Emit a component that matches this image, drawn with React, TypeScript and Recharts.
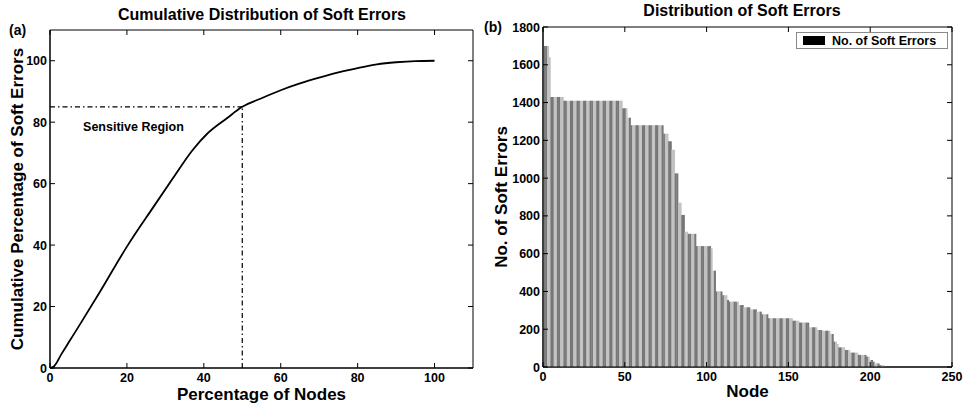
import React from 'react';
import {
  LineChart, Line, BarChart, Bar, Cell, XAxis, YAxis, ReferenceArea, ReferenceLine,
  ReferenceDot, Legend, Label,
} from 'recharts';

// (a) cumulative curve
const NODE_PCT = [0, 1, 3, 5, 8, 13, 20, 27, 32, 37, 41, 46, 50, 55, 60, 65, 70, 75, 80, 85, 90, 95, 100];
const CUM_PCT = [0, 0.5, 4.6, 8.6, 14.6, 24.8, 39.5, 52.6, 61.8, 70.8, 76.4, 81.3, 85, 87.8, 90.4, 92.6, 94.5, 96.2, 97.6, 98.8, 99.5, 99.9, 100];
const SENSITIVE_X = 50;
const SENSITIVE_Y = 85;

const A_X_TICKS = [0, 20, 40, 60, 80, 100];
const A_Y_TICKS = [0, 20, 40, 60, 80, 100];

// (b) soft errors per node (node 1..208)
const SOFT_ERRORS = [
  1700, 1700, 1700, 1640,
  1430, 1430, 1430, 1430, 1430, 1430, 1430, 1430,
  1410, 1410, 1410, 1410, 1410, 1410, 1410, 1410, 1410, 1410, 1410, 1410,
  1410, 1410, 1410, 1410, 1410, 1410, 1410, 1410, 1410, 1410, 1410, 1410,
  1410, 1410, 1410, 1410, 1410, 1410, 1410, 1410, 1410, 1410, 1410, 1410,
  1370, 1370, 1370, 1320, 1320,
  1280, 1280, 1280, 1280, 1280, 1280, 1280, 1280, 1280, 1280,
  1280, 1280, 1280, 1280, 1280, 1280, 1280, 1280, 1280, 1280,
  1235, 1235, 1235, 1195, 1195, 1150, 1150, 1025, 1025, 870, 870, 805, 805, 716, 716,
  705, 705, 705, 705, 705,
  640, 640, 640, 640, 640, 640, 640, 640, 640, 628,
  510, 510, 400, 400, 400, 400, 380, 380, 380, 355,
  346, 346, 346, 346, 346, 346, 328, 328, 328,
  316, 316, 316, 316, 305, 305, 305, 305, 293, 293, 293,
  279, 279, 279, 279,
  258, 258, 258, 258, 258, 258, 258, 258, 258, 258, 258, 258, 258, 258, 258,
  245, 245, 245, 245, 235, 235, 235, 235, 235, 235,
  210, 210, 210, 210, 210, 196, 196, 196, 192, 192, 192, 192, 192,
  175, 175, 134, 134, 122, 104, 104, 104, 104, 90, 90, 90,
  76, 76, 76, 76, 76, 64, 64, 64, 64, 64, 55, 55,
  37, 37, 28, 19, 19, 19, 10, 10, 10,
];

const B_X_TICKS = [0, 50, 100, 150, 200, 250];
const B_Y_TICKS = [0, 200, 400, 600, 800, 1000, 1200, 1400, 1600, 1800];

const FONT = '"Liberation Sans", Arial, Helvetica, sans-serif';

const cumData = NODE_PCT.map((pct, i) => ({ pct, cum: CUM_PCT[i] }));
const softData = SOFT_ERRORS.map((count, i) => ({ node: i + 1, count }));

// MATLAB style: ticks point inwards and are mirrored on the opposite side of the box
function BottomTick({ x, y, payload, top }: any) {
  return (
    <g>
      <line x1={x} y1={y} x2={x} y2={y - 5} stroke="#000" />
      <line x1={x} y1={top} x2={x} y2={top + 5} stroke="#000" />
      <text x={x} y={y + 14} textAnchor="middle" fontSize={12.5} fontWeight="bold" fontFamily={FONT} fill="#000">
        {payload.value}
      </text>
    </g>
  );
}

function LeftTick({ x, y, payload, right }: any) {
  return (
    <g>
      <line x1={x} y1={y} x2={x + 5} y2={y} stroke="#000" />
      <line x1={right} y1={y} x2={right - 5} y2={y} stroke="#000" />
      <text x={x - 3} y={y + 4.5} textAnchor="end" fontSize={12.5} fontWeight="bold" fontFamily={FONT} fill="#000">
        {payload.value}
      </text>
    </g>
  );
}

const axisTitle = { fontSize: 17, fontWeight: 'bold', fontFamily: FONT, fill: '#000', textAnchor: 'middle' } as const;

function SoftLegend() {
  return (
    <div style={{
      border: '1px solid #8a8a8a', background: '#fff', height: 17, display: 'flex',
      alignItems: 'center', fontFamily: FONT, fontWeight: 'bold', fontSize: 12.5, color: '#000',
      whiteSpace: 'nowrap', boxSizing: 'border-box', width: 152,
    }}>
      <span style={{ display: 'inline-block', width: 22, height: 9, background: '#000', margin: '0 7px 0 6px' }} />
      No. of Soft Errors
    </div>
  );
}

export default function App() {
  return (
    <div style={{ position: 'absolute', left: 0, top: 0, width: 964, height: 408, background: '#fff' }}>
      <div style={{ position: 'absolute', left: 0, top: 0 }}>
        <LineChart width={480} height={408} data={cumData} margin={{ top: 30, right: 7, bottom: 0, left: 0 }}>
          <XAxis
            dataKey="pct" type="number" domain={[0, 110]} ticks={A_X_TICKS} height={40}
            tickSize={0} tickMargin={0} tickLine={false} stroke="#000" interval={0}
            tick={(p: any) => <BottomTick {...p} top={30} />}
          >
            <Label value="Percentage of Nodes" position="insideBottom" offset={8} style={axisTitle} />
          </XAxis>
          <YAxis
            type="number" domain={[0, 110]} ticks={A_Y_TICKS} width={50}
            tickSize={0} tickMargin={0} tickLine={false} stroke="#000" interval={0}
            tick={(p: any) => <LeftTick {...p} right={473} />}
          >
            <Label value="Cumulative Percentage of Soft Errors" angle={-90} position="insideLeft" offset={17} style={axisTitle} />
          </YAxis>
          <ReferenceArea x1={0} x2={110} y1={0} y2={110} fill="none" stroke="#000" fillOpacity={0} />
          <ReferenceLine
            segment={[{ x: 0, y: SENSITIVE_Y }, { x: SENSITIVE_X, y: SENSITIVE_Y }]}
            stroke="#000" strokeWidth={1.2} strokeDasharray="5 3 1.5 3"
          />
          <ReferenceLine
            segment={[{ x: SENSITIVE_X, y: 0 }, { x: SENSITIVE_X, y: SENSITIVE_Y }]}
            stroke="#000" strokeWidth={1.2} strokeDasharray="5 3 1.5 3"
          />
          <ReferenceDot
            x={8.6} y={78.7} r={0} fill="none" stroke="none"
            label={{ value: 'Sensitive Region', position: 'right', offset: 0, fontSize: 12.5, fontWeight: 'bold', fontFamily: FONT, fill: '#000' }}
          />
          <Line dataKey="cum" type="monotone" stroke="#000" strokeWidth={1.8} dot={false} isAnimationActive={false} />
        </LineChart>
      </div>

      <div style={{ position: 'absolute', left: 480, top: 0 }}>
        <BarChart width={484} height={408} data={softData} barCategoryGap={0} margin={{ top: 27, right: 12, bottom: 0, left: 0 }}>
          <XAxis
            dataKey="node" type="number" domain={[0, 250]} ticks={B_X_TICKS} height={41}
            tickSize={0} tickMargin={0} tickLine={false} stroke="#000" interval={0}
            tick={(p: any) => <BottomTick {...p} top={27} />}
          >
            <Label value="Node" position="insideBottom" offset={11} style={axisTitle} />
          </XAxis>
          <YAxis
            type="number" domain={[0, 1800]} ticks={B_Y_TICKS} width={63}
            tickSize={0} tickMargin={0} tickLine={false} stroke="#000" interval={0}
            tick={(p: any) => <LeftTick {...p} right={472} />}
          >
            <Label value="No. of Soft Errors" angle={-90} position="insideLeft" offset={21} style={axisTitle} />
          </YAxis>
          <Bar dataKey="count" isAnimationActive={false} name="No. of Soft Errors">
            {softData.map((_, idx) => (
              <Cell key={idx} fill={idx % 4 < 2 ? '#777777' : '#c2c2c2'} />
            ))}
          </Bar>
          <ReferenceArea x1={0} x2={250} y1={0} y2={1800} fill="none" stroke="#000" fillOpacity={0} />
          <Legend
            layout="vertical" align="center" verticalAlign="middle"
            wrapperStyle={{ left: 316, top: 32, width: 152, height: 19 }}
            content={() => <SoftLegend />}
          />
        </BarChart>
      </div>

      <svg width={964} height={408} style={{ position: 'absolute', left: 0, top: 0, pointerEvents: 'none' }}>
        <g fontFamily={FONT} fontWeight="bold" fill="#000">
          <text x={262} y={20} fontSize={16} textAnchor="middle">Cumulative Distribution of Soft Errors</text>
          <text x={742} y={16} fontSize={16} textAnchor="middle">Distribution of Soft Errors</text>
          <text x={9} y={35} fontSize={14}>(a)</text>
          <text x={484} y={32} fontSize={14}>(b)</text>
        </g>
      </svg>
    </div>
  );
}
